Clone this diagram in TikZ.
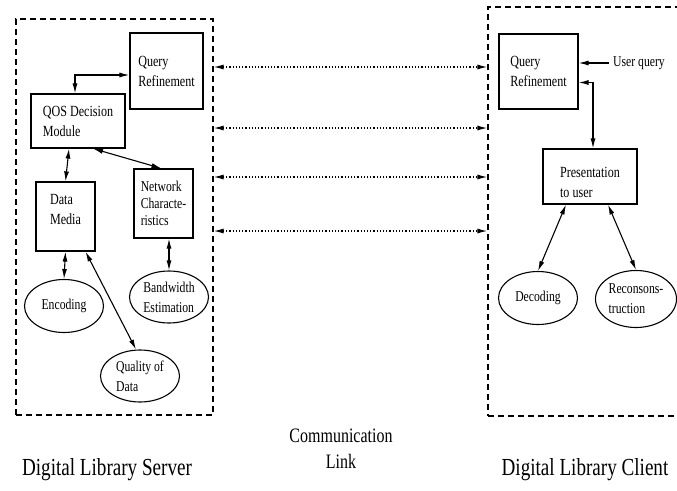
\documentclass[tikz,border=0pt]{standalone}
\usepackage{fontspec}
\setmainfont{Liberation Serif}[FakeStretch=0.78]
\usetikzlibrary{arrows.meta, shapes.geometric}

\begin{document}
\begin{tikzpicture}[x=1pt, y=-1pt, line width=1.1pt,
  blktxt/.style={align=left, inner sep=0pt, font=\fontsize{15.5}{20}\selectfont},
  blk/.style={draw, line width=1.2pt, blktxt},
  oval/.style={draw, ellipse, line width=1.1pt, align=left, inner sep=0pt,
    minimum width=79, minimum height=53, font=\fontsize{15}{20}\selectfont},
  side/.style={draw, dashed, dash pattern=on 6pt off 4pt, line width=1.2pt,
    inner sep=0pt},
  arr/.style={{Latex[length=10pt,width=5pt]}-{Latex[length=10pt,width=5pt]}},
  link/.style={arr, dotted, line width=1.2pt},
  big/.style={font=\fontsize{24.5}{27}\selectfont, align=center}]%
  \useasboundingbox (0,0) rectangle (677,490);
  % the two ends
  \node[side, minimum width=197, minimum height=396] (srv) at (114.5,217) {};
  \node[side, minimum width=202, minimum height=409] (cli) at (589,211.5) {};
  % server side
  \node[blk, minimum width=73, minimum height=76] (qrS) at (166.5,71)
    {Query\\Refinement};
  \node[blk, minimum width=94, minimum height=54] (qos) at (78,121)
    {QOS Decision\\Module};
  \node[blk, minimum width=59, minimum height=69,
    label={[blktxt, yshift=7]center:{Data\\Media}}] (data) at (65.5,216.5) {};
  \node[blk, minimum width=59, minimum height=69, font=\fontsize{15}{17}\selectfont]
    (net) at (163.5,203.5) {Network\\Characte-\\ristics};
  \node[oval] (enc) at (64,306) {Encoding};
  \node[oval, minimum height=52] (bw) at (169,297) {Bandwidth\\Estimation};
  \node[oval, minimum height=52] (qual) at (140,376) {Quality of\\Data};
  \draw[arr] ([xshift=-3]qos.north) |- ([yshift=-4]qrS.west);
  \draw[arr] ([xshift=-9]qos.south) -- (data.north);
  \draw[arr] ([xshift=15]qos.south) -- ([xshift=-2]net.north);
  \draw[arr] (net.south -| bw.north) -- (bw.north);
  \draw[arr] (data.south) -- (enc.north);
  \draw[arr] ([xshift=20]data.south) -- ([xshift=-4]qual.north);
  % client side
  \node[blk, minimum width=79, minimum height=75] (qrC) at (538.5,71.5)
    {Query\\Refinement};
  \node[font=\fontsize{15}{17}\selectfont] (uq) at (639,63) {User query};
  \node[blk, minimum width=94, minimum height=55,
    label={[blktxt, yshift=-6]center:{Presentation\\to user}}] (pres)
    at (590,176.5) {};
  \node[oval] (dec) at (538,298) {Decoding};
  \node[oval, minimum width=81, minimum height=57] (rec) at (636,299)
    {Reconsons-\\truction};
  \draw[-{Latex[length=10pt,width=5pt]}] (uq.west) -- (qrC.east |- uq.west);
  \draw[arr] ([yshift=-11]qrC.east) -| ([xshift=3]pres.north);
  \draw[arr] ([xshift=-24]pres.south) -- (dec.north);
  \draw[arr] ([xshift=18]pres.south) -- (rec.north);
  % communication link
  \foreach \yy in {67, 128, 177, 231} {
    \draw[link] (srv.east |- 0,\yy) -- (cli.west |- 0,\yy);
  }
  \node[big] (srvL) at (107,470) {Digital Library Server};
  \node[big, font=\fontsize{20.5}{26}\selectfont] (comL) at (341,449)
    {Communication\\Link};
  \node[big] (cliL) at (585,470) {Digital Library Client};
\end{tikzpicture}
\end{document}
